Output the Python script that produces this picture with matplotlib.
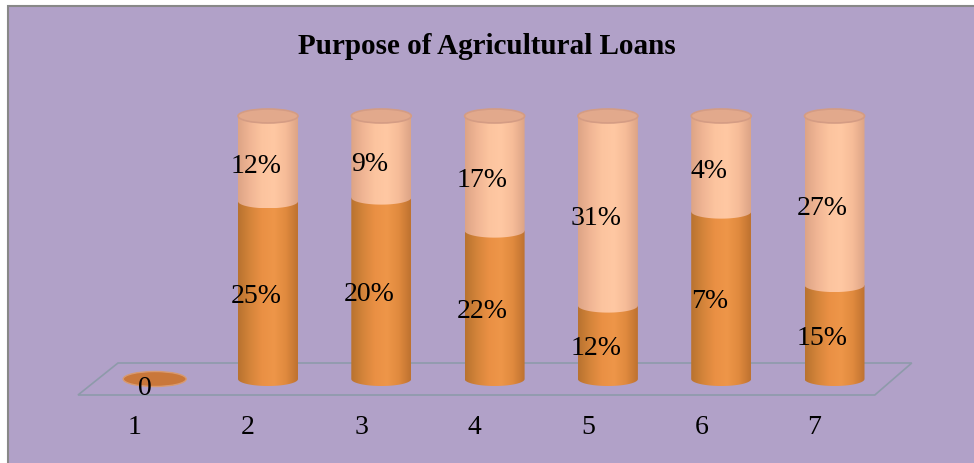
import numpy as np
import matplotlib
matplotlib.use("Agg")
import matplotlib.pyplot as plt
from matplotlib.patches import Rectangle, Ellipse, PathPatch, Polygon
from matplotlib.path import Path
from matplotlib.colors import LinearSegmentedColormap

# ---- data ----
categories = ['1', '2', '3', '4', '5', '6', '7']
lower_vals = [0, 25, 20, 22, 12, 7, 15]
upper_vals = [0, 12, 9, 17, 31, 4, 27]
title = "Purpose of Agricultural Loans"

# ---- figure ----
W, H = 974, 464
fig = plt.figure(figsize=(W / 100, H / 100), dpi=100)
fig.patch.set_facecolor('white')
fig.patches.append(Rectangle((7.5 / W, -0.01), 1.02, 1 - 6.5 / H + 0.01,
                             transform=fig.transFigure, facecolor='#B1A1C8',
                             edgecolor='#888888', lw=1.5, zorder=-5))

ax = fig.add_axes([0, 0, 1, 1])
ax.set_zorder(2)
ax.patch.set_visible(False)
ax.axis('off')

# axis scaling: category spacing / 100% height in pixels
x1_px, dx_px = 154.7, 113.3
y0_px, y1_px = 380.0, 117.0
hpx = y0_px - y1_px

serif = ['Liberation Serif', 'DejaVu Serif']
fs = 20

cyl_w = 60 / dx_px
ell_h = 14 / hpx

cmap_low = LinearSegmentedColormap.from_list('low', ['#B8722F', '#D4843A', '#EA9044', '#EE9649', '#E08A3E', '#BE7230'])
cmap_up = LinearSegmentedColormap.from_list('up', ['#DDA486', '#F0B594', '#FCC49F', '#FFC8A3', '#F6BC98', '#DCA486'])
grad = np.linspace(0, 1, 256).reshape(1, -1)


def segment(xc, yb, yt, cmap, z):
    a = cyl_w / 2
    b = ell_h / 2
    t = np.linspace(np.pi, 2 * np.pi, 60)
    verts = [(xc - a, yt), (xc - a, yb)]
    verts += list(zip(xc + a * np.cos(t), yb + b * np.sin(t)))
    verts += [(xc + a, yt), (xc - a, yt)]
    path = Path(verts, closed=True)
    patch = PathPatch(path, transform=ax.transData, facecolor='none',
                      edgecolor='none')
    im = ax.imshow(grad, cmap=cmap, extent=[xc - a, xc + a, yb - b, yt],
                   aspect='auto', interpolation='bicubic', zorder=z)
    im.set_clip_path(patch)


xs = np.arange(1, len(categories) + 1)
for i, (lo, up) in enumerate(zip(lower_vals, upper_vals)):
    xc = xs[i]
    tot = lo + up
    if tot == 0:
        ax.add_patch(Ellipse((xc, 0), cyl_w * 1.05, 15 / hpx,
                             facecolor='#C9773A', edgecolor='#D89A70',
                             lw=1, zorder=3))
        ax.text(xc - 10 / dx_px, -9 / hpx, str(lo), ha='center', va='center',
                fontsize=fs, family=serif, zorder=10)
        continue
    f = lo / tot
    segment(xc, 0, f, cmap_low, 3)
    segment(xc, f, 1, cmap_up, 4)
    ax.add_patch(Ellipse((xc, 1), cyl_w, ell_h, facecolor='#E2A98C',
                         edgecolor='#D49C84', lw=1.2, zorder=5))
    ax.text(xc - 12 / dx_px, f / 2 - 0.02, f"{lo}%", ha='center',
            va='center', fontsize=fs, family=serif, zorder=10)
    ax.text(xc - 12 / dx_px, f + (1 - f) / 2 - 0.025, f"{up}%", ha='center',
            va='center', fontsize=fs, family=serif, zorder=10)

# floor plane
fl_back, fl_front = 16 / hpx, -16 / hpx
floor = Polygon([(xs[0] - 0.677, fl_front), (xs[0] - 0.324, fl_back),
                 (xs[-1] + 0.682, fl_back), (xs[-1] + 0.356, fl_front)],
                closed=True, facecolor='none', edgecolor='#8E9AAA', lw=1.2,
                zorder=1)
ax.add_patch(floor)

# category labels
for i, c in enumerate(categories):
    ax.text(xs[i] - 20 / dx_px, (y0_px - 428) / hpx, c, ha='center',
            va='center', fontsize=fs, family=serif)

ax.set_xlim(1 - x1_px / dx_px, 1 + (W - x1_px) / dx_px)
ax.set_ylim((y0_px - H) / hpx, y0_px / hpx)

fig.text(0.5, 1 - 46 / H, title, ha='center', va='center', fontsize=21,
         fontweight='bold', family=serif, zorder=10)

fig.savefig('out.png', dpi=100)
